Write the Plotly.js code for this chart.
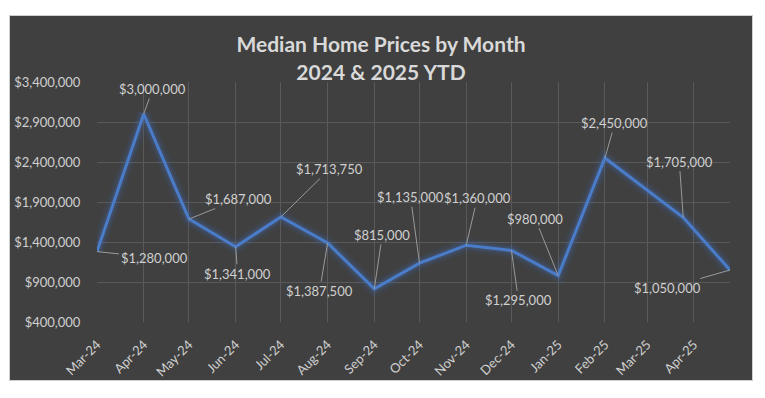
<!DOCTYPE html>
<html>
<head>
<meta charset="utf-8">
<script src="https://cdn.plot.ly/plotly-3.0.1.min.js"></script>
<style>
  html, body { margin: 0; padding: 0; background: #ffffff; width: 765px; height: 398px; overflow: hidden; }
  #chart { position: absolute; left: 10px; top: 16px; width: 742px; height: 364px; outline: 1px solid #cfcfcf; }
</style>
</head>
<body>
<div id="chart"></div>
<script>
// ---- data ----
const dates = ['2024-03-01','2024-04-01','2024-05-01','2024-06-01','2024-07-01','2024-08-01',
               '2024-09-01','2024-10-01','2024-11-01','2024-12-01','2025-01-01','2025-02-01',
               '2025-03-25','2025-04-25'];
const prices = [1280000, 3000000, 1687000, 1341000, 1713750, 1387500,
                815000, 1135000, 1360000, 1295000, 980000, 2450000,
                1705000, 1050000];
const yTickVals = [400000, 900000, 1400000, 1900000, 2400000, 2900000, 3400000];
const titleLines = ['Median Home Prices by Month', '2024 &amp; 2025 YTD'];

// label offsets (pixels, style only)
const labelDX = [57, 9, 50, 2, 49, -8, 8, -9, 11, 7, -23, 10, -4, -63];
const labelDY = [6, -25, -20, 27, -48, 48, -54, -66, -47, 50, -57, -35, -56, 18];

const BG = '#404040';
const TXT = '#d0d0d0';
const FONT = 'Lato, "Open Sans", sans-serif';
const BLUE = '#4a7cc9';

function money(v) { return '$' + v.toLocaleString('en-US'); }

const glow = [[15, 0.05], [11, 0.09], [7, 0.18]].map(([w, a]) => ({
  x: dates, y: prices, type: 'scatter', mode: 'lines', hoverinfo: 'skip',
  line: { color: 'rgba(68,114,196,' + a + ')', width: w }, showlegend: false
}));
const main = {
  x: dates, y: prices, type: 'scatter', mode: 'lines',
  line: { color: BLUE, width: 3 }, showlegend: false
};

const annotations = prices.map((v, i) => ({
  x: dates[i], y: v, xref: 'x', yref: 'y', text: money(v),
  showarrow: true, arrowhead: 0, arrowwidth: 1, arrowcolor: '#9a9a9a',
  ax: labelDX[i], ay: labelDY[i], standoff: 0,
  font: { family: FONT, size: 13, color: TXT }
}));

const layout = {
  width: 742, height: 364,
  margin: { l: 87, r: 22, t: 66, b: 58 },
  paper_bgcolor: BG, plot_bgcolor: BG,
  title: {
    text: '<b>' + titleLines.join('<br>') + '</b>',
    font: { family: FONT, size: 21, color: '#d9d9d9' },
    x: 0.5, xanchor: 'center', yref: 'container', y: 0.9, yanchor: 'top'
  },
  xaxis: {
    type: 'date', range: [dates[0], dates[dates.length - 1]],
    tick0: dates[0], dtick: 'M1', tickformat: '%b-%y', tickangle: -45,
    showgrid: true, gridcolor: '#595959', gridwidth: 1,
    zeroline: false, showline: false,
    ticks: 'outside', ticklen: 9, tickcolor: 'rgba(0,0,0,0)',
    tickfont: { family: FONT, size: 13, color: TXT }
  },
  yaxis: {
    range: [400000, 3400000], tickvals: yTickVals,
    ticktext: yTickVals.map(money),
    showgrid: true, gridcolor: '#595959', gridwidth: 1,
    zeroline: false, showline: false,
    ticks: 'outside', ticklen: 13, tickcolor: 'rgba(0,0,0,0)',
    tickfont: { family: FONT, size: 13, color: TXT }
  },
  shapes: [
    { type: 'rect', layer: 'between', xref: 'paper', x0: 0, x1: 1, yref: 'y', y0: 400000, y1: 1000000,
      fillcolor: BG, opacity: 0.92, line: { width: 0 } },
    { type: 'rect', layer: 'between', xref: 'paper', x0: 0, x1: 1, yref: 'y', y0: 1000000, y1: 1300000,
      fillcolor: BG, opacity: 0.5, line: { width: 0 } }
  ],
  annotations: annotations
};

Plotly.newPlot('chart', glow.concat([main]), layout, { displayModeBar: false, staticPlot: true });
</script>
</body>
</html>
